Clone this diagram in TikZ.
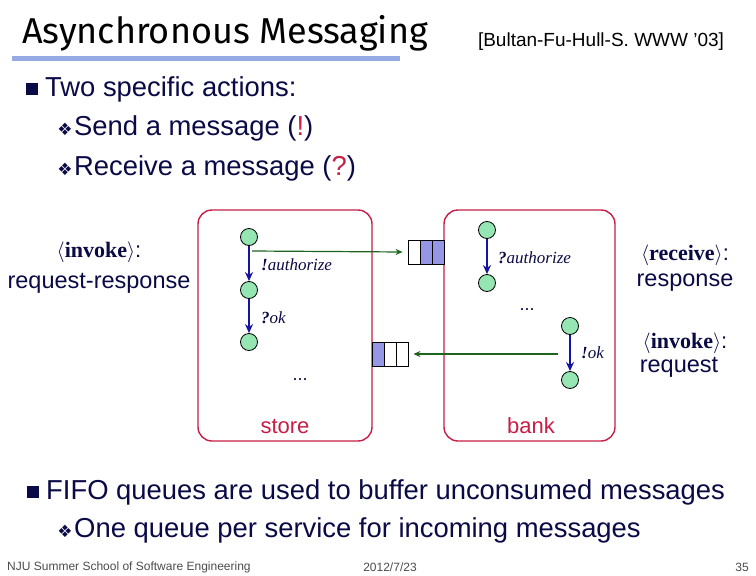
\documentclass[tikz,border=0pt]{standalone}
\usepackage{fontspec}
\setmainfont{Liberation Sans}
\newfontfamily\titlef{Fira Sans}
\newfontfamily\symf{DejaVu Sans}
\newfontfamily\serf{Liberation Serif}
\usetikzlibrary{arrows.meta}
\definecolor{navy}{RGB}{10,10,70}
\definecolor{crim}{RGB}{200,30,70}
\definecolor{stc}{RGB}{150,230,180}
\definecolor{qb}{RGB}{150,150,230}
\definecolor{ln}{RGB}{150,170,230}
\definecolor{dg}{RGB}{30,100,30}
\definecolor{ab}{RGB}{20,20,160}
\begin{document}
\begin{tikzpicture}[x=1pt,y=-1pt,
  st/.style={circle,draw=black,fill=stc,minimum size=17pt,inner sep=0pt,line width=0.8pt},
  tr/.style={draw=ab,line width=1.4pt,-{Stealth[length=9pt,width=8pt]}},
  msg/.style={draw=dg,line width=1.2pt,-{Stealth[length=7pt,width=6pt]}},
  box/.style={draw=crim,line width=1.4pt,rounded corners=14pt},
  lab/.style={font=\serf\itshape\fontsize{17}{17}\selectfont,text=navy,anchor=west,inner sep=0pt},
  body/.style={font=\fontsize{27.4}{27.4}\selectfont,text=navy,anchor=west,inner sep=0pt},
  side/.style={font=\fontsize{23.5}{23.5}\selectfont,text=navy,inner sep=0pt},
  sideb/.style={font=\serf\bfseries\fontsize{22}{22}\selectfont,text=navy,inner sep=0pt},
  bul/.style={fill=navy,minimum size=12pt,inner sep=0pt},
  sbul/.style={font=\symf\fontsize{17}{17}\selectfont,text=navy,inner sep=0pt},
  cell/.style={draw=black,minimum width=12pt,minimum height=24pt,inner sep=0pt,line width=0.8pt},
  foot/.style={font=\fontsize{12}{12}\selectfont,text=black!70,inner sep=0pt}]
\useasboundingbox (0,0) rectangle (756,576);
\fill[white] (0,0) rectangle (756,576);
% title
\node[font=\titlef\fontsize{36}{36}\selectfont,anchor=west,inner sep=0pt] (title) at (22,33) {Asynchronous Messaging};
\fill[ln] (12,56) rectangle (400,61);
\node[font=\fontsize{19}{19}\selectfont,inner sep=0pt] (ref) at (601,42) {[Bultan-Fu-Hull-S. WWW ’03]};
% bullets
\node[bul] (b1) at (32,89) {};
\node[body] (t1) at (45,89) {Two specific actions:};
\node[sbul] (s1) at (65,129) {❖};
\node[body] (t2) at (74,128) {Send a message (\textcolor{crim}{!})};
\node[sbul] (s2) at (65,169) {❖};
\node[body] (t3) at (74,168) {Receive a message (\textcolor{crim}{?})};
% boxes
\draw[box] (198,210) rectangle (372,441);
\draw[box] (444,210) rectangle (615,441);
\node[font=\fontsize{22}{22}\selectfont,text=crim,inner sep=0pt] (store) at (285,426) {store};
\node[font=\fontsize{22}{22}\selectfont,text=crim,inner sep=0pt] (bank) at (531,426) {bank};
% store states
\node[st] (a1) at (249,237) {};
\node[st] (a2) at (249,290) {};
\node[st] (a3) at (249,342) {};
\draw[tr] (a1) -- (a2);
\draw[tr] (a2) -- (a3);
\node[lab] (la1) at (261,265) {\textbf{!}authorize};
\node[lab] (la2) at (261,318) {\textbf{?}ok};
\node[font=\fontsize{18}{18}\selectfont,text=navy] (d1) at (300,380) {...};
% bank states
\node[st] (b1s) at (487,230) {};
\node[st] (b2s) at (487,283) {};
\draw[tr] (b1s) -- (b2s);
\node[lab] (lb1) at (498,258) {\textbf{?}authorize};
\node[font=\fontsize{18}{18}\selectfont,text=navy] (d2) at (527,310) {...};
\node[st] (c1) at (570,326) {};
\node[st] (c2) at (570,380) {};
\draw[tr] (c1) -- (c2);
\node[lab] (lc1) at (581,353) {\textbf{!}ok};
% queues
\node[cell,fill=white] (q1) at (414,252) {};
\node[cell,fill=qb] (q2) at (426,252) {};
\node[cell,fill=qb] (q3) at (438,252) {};
\node[cell,fill=qb] (r1) at (378,354) {};
\node[cell,fill=white] (r2) at (390,354) {};
\node[cell,fill=white] (r3) at (402,354) {};
\coordinate (m1s) at (252,251);
\coordinate (m2s) at (558,354);
\draw[msg] (m1s) -- ([xshift=-5pt]q1.west);
\draw[msg] (m2s) -- ([xshift=5pt]r3.east);
% side labels
\node[sideb] (i1) at (99,252) {$\langle$invoke$\rangle$\textnormal{\rmfamily :}};
\node[side] (i1b) at (99,283) {request-response};
\node[sideb] (rc) at (685,255) {$\langle$receive$\rangle$\textnormal{\rmfamily :}};
\node[side] (rcb) at (685,283) {response};
\node[sideb] (i2) at (685,343) {$\langle$invoke$\rangle$\textnormal{\rmfamily :}};
\node[side] (i2b) at (679,367) {request};
% bottom bullets
\node[bul] (b3) at (33,492) {};
\node[body] (t4) at (46,492) {FIFO queues are used to buffer unconsumed messages};
\node[sbul] (s3) at (65,531) {❖};
\node[body] (t5) at (74,530) {One queue per service for incoming messages};
% footer
\node[foot,anchor=west] (f1) at (7,567) {NJU Summer School of Software Engineering};
\node[foot] (f2) at (390,567) {2012/7/23};
\node[foot] (f3) at (742,567) {35};
\end{tikzpicture}
\end{document}
